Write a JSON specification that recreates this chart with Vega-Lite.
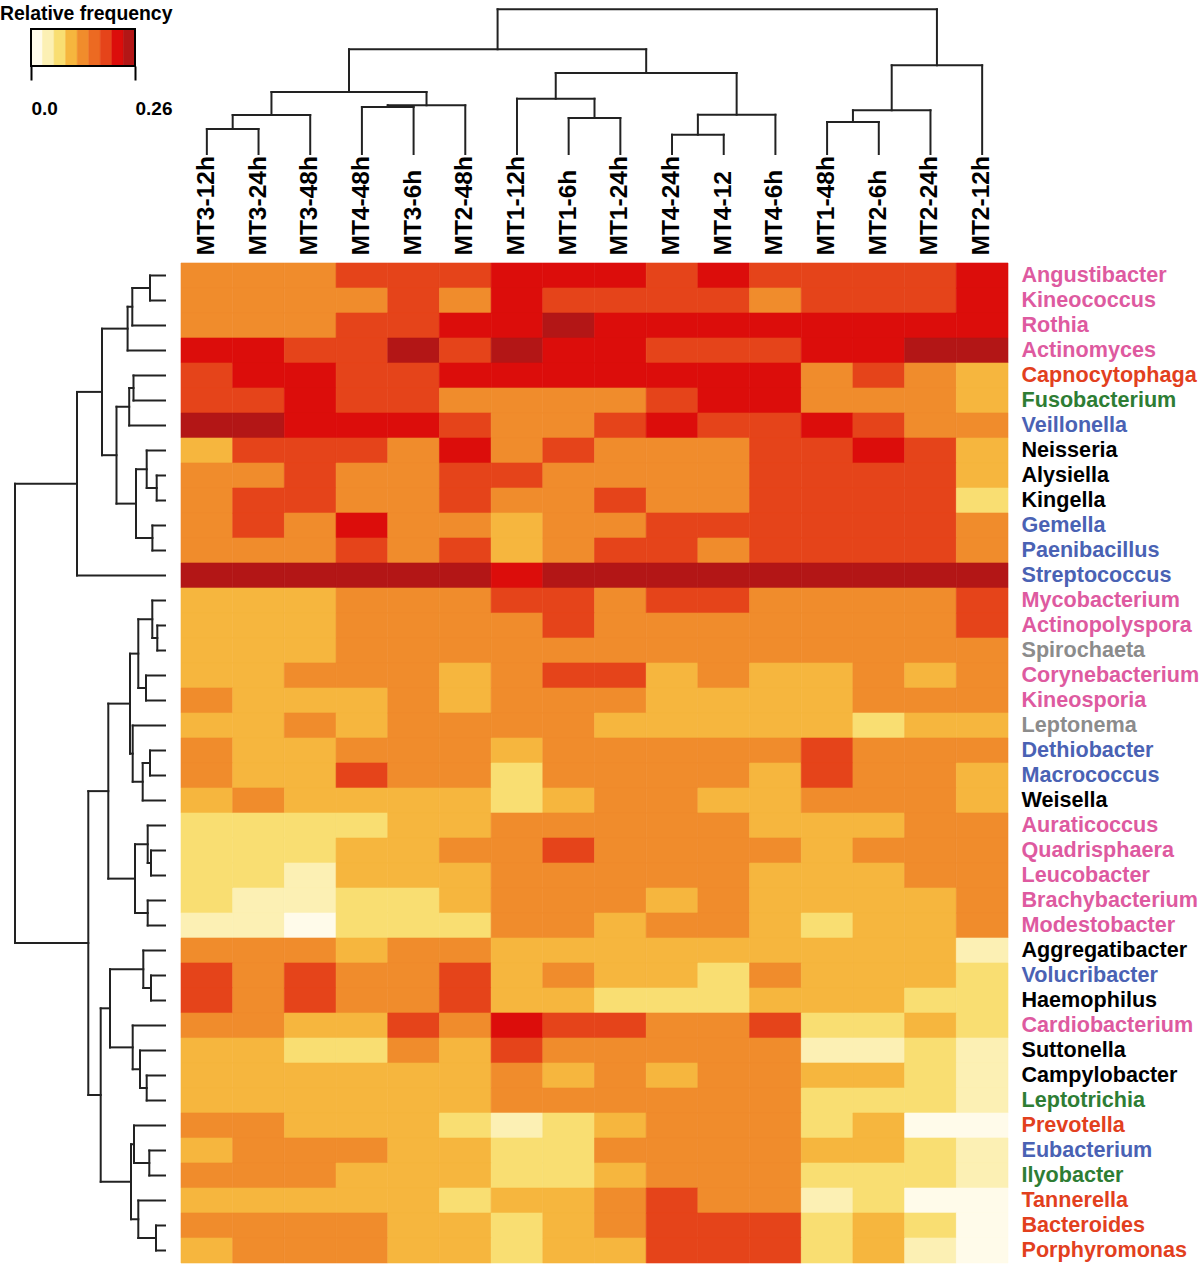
{
"$schema": "https://vega.github.io/schema/vega-lite/v6.json",
"padding": {"top": 3, "left": 0, "right": 0, "bottom": 0},
"autosize": {"type": "pad"},
"config": {"view": {"stroke": null}, "font": "Liberation Sans"},
"datasets": {
"bins": [
{"lo":0,"hi":0.0289,"freq":0.0144},{"lo":0.0289,"hi":0.0578,"freq":0.0433},{"lo":0.0578,"hi":0.0867,"freq":0.0722},
{"lo":0.0867,"hi":0.1156,"freq":0.1011},{"lo":0.1156,"hi":0.1444,"freq":0.13},{"lo":0.1444,"hi":0.1733,"freq":0.1589},
{"lo":0.1733,"hi":0.2022,"freq":0.1878},{"lo":0.2022,"hi":0.2311,"freq":0.2167},{"lo":0.2311,"hi":0.26,"freq":0.2456}
],
"coltree": [
{"left":1,"right":2,"lh":0,"rh":0,"h":25},
{"left":1.5,"right":3,"lh":25,"rh":0,"h":39},
{"left":4,"right":5,"lh":0,"rh":0,"h":47},
{"left":4.5,"right":6,"lh":47,"rh":0,"h":48.7},
{"left":2.25,"right":5.25,"lh":39,"rh":48.7,"h":62},
{"left":8,"right":9,"lh":0,"rh":0,"h":36},
{"left":7,"right":8.5,"lh":0,"rh":36,"h":55.3},
{"left":10,"right":11,"lh":0,"rh":0,"h":19.3},
{"left":10.5,"right":12,"lh":19.3,"rh":0,"h":39.3},
{"left":7.75,"right":11.25,"lh":55.3,"rh":39.3,"h":81},
{"left":3.75,"right":9.5,"lh":62,"rh":81,"h":104.7},
{"left":13,"right":14,"lh":0,"rh":0,"h":32},
{"left":13.5,"right":15,"lh":32,"rh":0,"h":43.7},
{"left":14.25,"right":16,"lh":43.7,"rh":0,"h":88.7},
{"left":6.625,"right":15.125,"lh":104.7,"rh":88.7,"h":144.7}
],
"rowtree": [
{"lp":1,"rp":2,"lh":0,"rh":0,"h":15},
{"lp":1.5,"rp":3,"lh":15,"rh":0,"h":32.7},
{"lp":2.25,"rp":4,"lh":32.7,"rh":0,"h":37.4},
{"lp":5,"rp":6,"lh":0,"rh":0,"h":31.5},
{"lp":5.5,"rp":7,"lh":31.5,"rh":0,"h":35.8},
{"lp":9,"rp":10,"lh":0,"rh":0,"h":8.3},
{"lp":8,"rp":9.5,"lh":0,"rh":8.3,"h":18.3},
{"lp":11,"rp":12,"lh":0,"rh":0,"h":12.6},
{"lp":8.75,"rp":11.5,"lh":18.3,"rh":12.6,"h":29},
{"lp":6.25,"rp":10.125,"lh":35.8,"rh":29,"h":48.5},
{"lp":3.125,"rp":8.1875,"lh":37.4,"rh":48.5,"h":63},
{"lp":5.656,"rp":13,"lh":63,"rh":0,"h":88},
{"lp":15,"rp":16,"lh":0,"rh":0,"h":7.7},
{"lp":14,"rp":15.5,"lh":0,"rh":7.7,"h":12.7},
{"lp":17,"rp":18,"lh":0,"rh":0,"h":19},
{"lp":14.75,"rp":17.5,"lh":12.7,"rh":19,"h":26.7},
{"lp":20,"rp":21,"lh":0,"rh":0,"h":15},
{"lp":20.5,"rp":22,"lh":15,"rh":0,"h":22.3},
{"lp":19,"rp":21.25,"lh":0,"rh":22.3,"h":32.3},
{"lp":16.125,"rp":20.125,"lh":26.7,"rh":32.3,"h":35},
{"lp":24,"rp":25,"lh":0,"rh":0,"h":14},
{"lp":23,"rp":24.5,"lh":0,"rh":14,"h":17.3},
{"lp":26,"rp":27,"lh":0,"rh":0,"h":17.3},
{"lp":23.75,"rp":26.5,"lh":17.3,"rh":17.3,"h":30},
{"lp":18.125,"rp":25.125,"lh":35,"rh":30,"h":56.7},
{"lp":29,"rp":30,"lh":0,"rh":0,"h":14},
{"lp":28,"rp":29.5,"lh":0,"rh":14,"h":21.7},
{"lp":33,"rp":34,"lh":0,"rh":0,"h":18.3},
{"lp":32,"rp":33.5,"lh":0,"rh":18.3,"h":25},
{"lp":31,"rp":32.75,"lh":0,"rh":25,"h":32.3},
{"lp":28.75,"rp":31.875,"lh":21.7,"rh":32.3,"h":55},
{"lp":36,"rp":37,"lh":0,"rh":0,"h":15.7},
{"lp":35,"rp":36.5,"lh":0,"rh":15.7,"h":31},
{"lp":39,"rp":40,"lh":0,"rh":0,"h":9},
{"lp":38,"rp":39.5,"lh":0,"rh":9,"h":26.7},
{"lp":35.75,"rp":38.75,"lh":31,"rh":26.7,"h":34},
{"lp":30.3125,"rp":37.25,"lh":55,"rh":34,"h":64.3},
{"lp":21.625,"rp":33.78,"lh":56.7,"rh":64.3,"h":76.7},
{"lp":9.328,"rp":27.7,"lh":88,"rh":76.7,"h":150}
],
"cells": [
{"genus":"Angustibacter","sample":"MT3-12h","freq":0.128},{"genus":"Angustibacter","sample":"MT3-24h","freq":0.128},{"genus":"Angustibacter","sample":"MT3-48h","freq":0.128},{"genus":"Angustibacter","sample":"MT4-48h","freq":0.186},{"genus":"Angustibacter","sample":"MT3-6h","freq":0.186},{"genus":"Angustibacter","sample":"MT2-48h","freq":0.186},{"genus":"Angustibacter","sample":"MT1-12h","freq":0.215},{"genus":"Angustibacter","sample":"MT1-6h","freq":0.215},{"genus":"Angustibacter","sample":"MT1-24h","freq":0.215},{"genus":"Angustibacter","sample":"MT4-24h","freq":0.186},{"genus":"Angustibacter","sample":"MT4-12","freq":0.215},{"genus":"Angustibacter","sample":"MT4-6h","freq":0.186},{"genus":"Angustibacter","sample":"MT1-48h","freq":0.186},{"genus":"Angustibacter","sample":"MT2-6h","freq":0.186},{"genus":"Angustibacter","sample":"MT2-24h","freq":0.186},{"genus":"Angustibacter","sample":"MT2-12h","freq":0.215},
{"genus":"Kineococcus","sample":"MT3-12h","freq":0.128},{"genus":"Kineococcus","sample":"MT3-24h","freq":0.128},{"genus":"Kineococcus","sample":"MT3-48h","freq":0.128},{"genus":"Kineococcus","sample":"MT4-48h","freq":0.128},{"genus":"Kineococcus","sample":"MT3-6h","freq":0.186},{"genus":"Kineococcus","sample":"MT2-48h","freq":0.128},{"genus":"Kineococcus","sample":"MT1-12h","freq":0.215},{"genus":"Kineococcus","sample":"MT1-6h","freq":0.186},{"genus":"Kineococcus","sample":"MT1-24h","freq":0.186},{"genus":"Kineococcus","sample":"MT4-24h","freq":0.186},{"genus":"Kineococcus","sample":"MT4-12","freq":0.186},{"genus":"Kineococcus","sample":"MT4-6h","freq":0.128},{"genus":"Kineococcus","sample":"MT1-48h","freq":0.186},{"genus":"Kineococcus","sample":"MT2-6h","freq":0.186},{"genus":"Kineococcus","sample":"MT2-24h","freq":0.186},{"genus":"Kineococcus","sample":"MT2-12h","freq":0.215},
{"genus":"Rothia","sample":"MT3-12h","freq":0.128},{"genus":"Rothia","sample":"MT3-24h","freq":0.128},{"genus":"Rothia","sample":"MT3-48h","freq":0.128},{"genus":"Rothia","sample":"MT4-48h","freq":0.186},{"genus":"Rothia","sample":"MT3-6h","freq":0.186},{"genus":"Rothia","sample":"MT2-48h","freq":0.215},{"genus":"Rothia","sample":"MT1-12h","freq":0.215},{"genus":"Rothia","sample":"MT1-6h","freq":0.245},{"genus":"Rothia","sample":"MT1-24h","freq":0.215},{"genus":"Rothia","sample":"MT4-24h","freq":0.215},{"genus":"Rothia","sample":"MT4-12","freq":0.215},{"genus":"Rothia","sample":"MT4-6h","freq":0.215},{"genus":"Rothia","sample":"MT1-48h","freq":0.215},{"genus":"Rothia","sample":"MT2-6h","freq":0.215},{"genus":"Rothia","sample":"MT2-24h","freq":0.215},{"genus":"Rothia","sample":"MT2-12h","freq":0.215},
{"genus":"Actinomyces","sample":"MT3-12h","freq":0.215},{"genus":"Actinomyces","sample":"MT3-24h","freq":0.215},{"genus":"Actinomyces","sample":"MT3-48h","freq":0.186},{"genus":"Actinomyces","sample":"MT4-48h","freq":0.186},{"genus":"Actinomyces","sample":"MT3-6h","freq":0.245},{"genus":"Actinomyces","sample":"MT2-48h","freq":0.186},{"genus":"Actinomyces","sample":"MT1-12h","freq":0.245},{"genus":"Actinomyces","sample":"MT1-6h","freq":0.215},{"genus":"Actinomyces","sample":"MT1-24h","freq":0.215},{"genus":"Actinomyces","sample":"MT4-24h","freq":0.186},{"genus":"Actinomyces","sample":"MT4-12","freq":0.186},{"genus":"Actinomyces","sample":"MT4-6h","freq":0.186},{"genus":"Actinomyces","sample":"MT1-48h","freq":0.215},{"genus":"Actinomyces","sample":"MT2-6h","freq":0.215},{"genus":"Actinomyces","sample":"MT2-24h","freq":0.245},{"genus":"Actinomyces","sample":"MT2-12h","freq":0.245},
{"genus":"Capnocytophaga","sample":"MT3-12h","freq":0.186},{"genus":"Capnocytophaga","sample":"MT3-24h","freq":0.215},{"genus":"Capnocytophaga","sample":"MT3-48h","freq":0.215},{"genus":"Capnocytophaga","sample":"MT4-48h","freq":0.186},{"genus":"Capnocytophaga","sample":"MT3-6h","freq":0.186},{"genus":"Capnocytophaga","sample":"MT2-48h","freq":0.215},{"genus":"Capnocytophaga","sample":"MT1-12h","freq":0.215},{"genus":"Capnocytophaga","sample":"MT1-6h","freq":0.215},{"genus":"Capnocytophaga","sample":"MT1-24h","freq":0.215},{"genus":"Capnocytophaga","sample":"MT4-24h","freq":0.215},{"genus":"Capnocytophaga","sample":"MT4-12","freq":0.215},{"genus":"Capnocytophaga","sample":"MT4-6h","freq":0.215},{"genus":"Capnocytophaga","sample":"MT1-48h","freq":0.128},{"genus":"Capnocytophaga","sample":"MT2-6h","freq":0.186},{"genus":"Capnocytophaga","sample":"MT2-24h","freq":0.128},{"genus":"Capnocytophaga","sample":"MT2-12h","freq":0.1},
{"genus":"Fusobacterium","sample":"MT3-12h","freq":0.186},{"genus":"Fusobacterium","sample":"MT3-24h","freq":0.186},{"genus":"Fusobacterium","sample":"MT3-48h","freq":0.215},{"genus":"Fusobacterium","sample":"MT4-48h","freq":0.186},{"genus":"Fusobacterium","sample":"MT3-6h","freq":0.186},{"genus":"Fusobacterium","sample":"MT2-48h","freq":0.128},{"genus":"Fusobacterium","sample":"MT1-12h","freq":0.128},{"genus":"Fusobacterium","sample":"MT1-6h","freq":0.128},{"genus":"Fusobacterium","sample":"MT1-24h","freq":0.128},{"genus":"Fusobacterium","sample":"MT4-24h","freq":0.186},{"genus":"Fusobacterium","sample":"MT4-12","freq":0.215},{"genus":"Fusobacterium","sample":"MT4-6h","freq":0.215},{"genus":"Fusobacterium","sample":"MT1-48h","freq":0.128},{"genus":"Fusobacterium","sample":"MT2-6h","freq":0.128},{"genus":"Fusobacterium","sample":"MT2-24h","freq":0.128},{"genus":"Fusobacterium","sample":"MT2-12h","freq":0.1},
{"genus":"Veillonella","sample":"MT3-12h","freq":0.245},{"genus":"Veillonella","sample":"MT3-24h","freq":0.245},{"genus":"Veillonella","sample":"MT3-48h","freq":0.215},{"genus":"Veillonella","sample":"MT4-48h","freq":0.215},{"genus":"Veillonella","sample":"MT3-6h","freq":0.215},{"genus":"Veillonella","sample":"MT2-48h","freq":0.186},{"genus":"Veillonella","sample":"MT1-12h","freq":0.128},{"genus":"Veillonella","sample":"MT1-6h","freq":0.128},{"genus":"Veillonella","sample":"MT1-24h","freq":0.186},{"genus":"Veillonella","sample":"MT4-24h","freq":0.215},{"genus":"Veillonella","sample":"MT4-12","freq":0.186},{"genus":"Veillonella","sample":"MT4-6h","freq":0.186},{"genus":"Veillonella","sample":"MT1-48h","freq":0.215},{"genus":"Veillonella","sample":"MT2-6h","freq":0.186},{"genus":"Veillonella","sample":"MT2-24h","freq":0.128},{"genus":"Veillonella","sample":"MT2-12h","freq":0.128},
{"genus":"Neisseria","sample":"MT3-12h","freq":0.1},{"genus":"Neisseria","sample":"MT3-24h","freq":0.186},{"genus":"Neisseria","sample":"MT3-48h","freq":0.186},{"genus":"Neisseria","sample":"MT4-48h","freq":0.186},{"genus":"Neisseria","sample":"MT3-6h","freq":0.128},{"genus":"Neisseria","sample":"MT2-48h","freq":0.215},{"genus":"Neisseria","sample":"MT1-12h","freq":0.128},{"genus":"Neisseria","sample":"MT1-6h","freq":0.186},{"genus":"Neisseria","sample":"MT1-24h","freq":0.128},{"genus":"Neisseria","sample":"MT4-24h","freq":0.128},{"genus":"Neisseria","sample":"MT4-12","freq":0.128},{"genus":"Neisseria","sample":"MT4-6h","freq":0.186},{"genus":"Neisseria","sample":"MT1-48h","freq":0.186},{"genus":"Neisseria","sample":"MT2-6h","freq":0.215},{"genus":"Neisseria","sample":"MT2-24h","freq":0.186},{"genus":"Neisseria","sample":"MT2-12h","freq":0.1},
{"genus":"Alysiella","sample":"MT3-12h","freq":0.128},{"genus":"Alysiella","sample":"MT3-24h","freq":0.128},{"genus":"Alysiella","sample":"MT3-48h","freq":0.186},{"genus":"Alysiella","sample":"MT4-48h","freq":0.128},{"genus":"Alysiella","sample":"MT3-6h","freq":0.128},{"genus":"Alysiella","sample":"MT2-48h","freq":0.186},{"genus":"Alysiella","sample":"MT1-12h","freq":0.186},{"genus":"Alysiella","sample":"MT1-6h","freq":0.128},{"genus":"Alysiella","sample":"MT1-24h","freq":0.128},{"genus":"Alysiella","sample":"MT4-24h","freq":0.128},{"genus":"Alysiella","sample":"MT4-12","freq":0.128},{"genus":"Alysiella","sample":"MT4-6h","freq":0.186},{"genus":"Alysiella","sample":"MT1-48h","freq":0.186},{"genus":"Alysiella","sample":"MT2-6h","freq":0.186},{"genus":"Alysiella","sample":"MT2-24h","freq":0.186},{"genus":"Alysiella","sample":"MT2-12h","freq":0.1},
{"genus":"Kingella","sample":"MT3-12h","freq":0.128},{"genus":"Kingella","sample":"MT3-24h","freq":0.186},{"genus":"Kingella","sample":"MT3-48h","freq":0.186},{"genus":"Kingella","sample":"MT4-48h","freq":0.128},{"genus":"Kingella","sample":"MT3-6h","freq":0.128},{"genus":"Kingella","sample":"MT2-48h","freq":0.186},{"genus":"Kingella","sample":"MT1-12h","freq":0.128},{"genus":"Kingella","sample":"MT1-6h","freq":0.128},{"genus":"Kingella","sample":"MT1-24h","freq":0.186},{"genus":"Kingella","sample":"MT4-24h","freq":0.128},{"genus":"Kingella","sample":"MT4-12","freq":0.128},{"genus":"Kingella","sample":"MT4-6h","freq":0.186},{"genus":"Kingella","sample":"MT1-48h","freq":0.186},{"genus":"Kingella","sample":"MT2-6h","freq":0.186},{"genus":"Kingella","sample":"MT2-24h","freq":0.186},{"genus":"Kingella","sample":"MT2-12h","freq":0.072},
{"genus":"Gemella","sample":"MT3-12h","freq":0.128},{"genus":"Gemella","sample":"MT3-24h","freq":0.186},{"genus":"Gemella","sample":"MT3-48h","freq":0.128},{"genus":"Gemella","sample":"MT4-48h","freq":0.215},{"genus":"Gemella","sample":"MT3-6h","freq":0.128},{"genus":"Gemella","sample":"MT2-48h","freq":0.128},{"genus":"Gemella","sample":"MT1-12h","freq":0.1},{"genus":"Gemella","sample":"MT1-6h","freq":0.128},{"genus":"Gemella","sample":"MT1-24h","freq":0.128},{"genus":"Gemella","sample":"MT4-24h","freq":0.186},{"genus":"Gemella","sample":"MT4-12","freq":0.186},{"genus":"Gemella","sample":"MT4-6h","freq":0.186},{"genus":"Gemella","sample":"MT1-48h","freq":0.186},{"genus":"Gemella","sample":"MT2-6h","freq":0.186},{"genus":"Gemella","sample":"MT2-24h","freq":0.186},{"genus":"Gemella","sample":"MT2-12h","freq":0.128},
{"genus":"Paenibacillus","sample":"MT3-12h","freq":0.128},{"genus":"Paenibacillus","sample":"MT3-24h","freq":0.128},{"genus":"Paenibacillus","sample":"MT3-48h","freq":0.128},{"genus":"Paenibacillus","sample":"MT4-48h","freq":0.186},{"genus":"Paenibacillus","sample":"MT3-6h","freq":0.128},{"genus":"Paenibacillus","sample":"MT2-48h","freq":0.186},{"genus":"Paenibacillus","sample":"MT1-12h","freq":0.1},{"genus":"Paenibacillus","sample":"MT1-6h","freq":0.128},{"genus":"Paenibacillus","sample":"MT1-24h","freq":0.186},{"genus":"Paenibacillus","sample":"MT4-24h","freq":0.186},{"genus":"Paenibacillus","sample":"MT4-12","freq":0.128},{"genus":"Paenibacillus","sample":"MT4-6h","freq":0.186},{"genus":"Paenibacillus","sample":"MT1-48h","freq":0.186},{"genus":"Paenibacillus","sample":"MT2-6h","freq":0.186},{"genus":"Paenibacillus","sample":"MT2-24h","freq":0.186},{"genus":"Paenibacillus","sample":"MT2-12h","freq":0.128},
{"genus":"Streptococcus","sample":"MT3-12h","freq":0.245},{"genus":"Streptococcus","sample":"MT3-24h","freq":0.245},{"genus":"Streptococcus","sample":"MT3-48h","freq":0.245},{"genus":"Streptococcus","sample":"MT4-48h","freq":0.245},{"genus":"Streptococcus","sample":"MT3-6h","freq":0.245},{"genus":"Streptococcus","sample":"MT2-48h","freq":0.245},{"genus":"Streptococcus","sample":"MT1-12h","freq":0.215},{"genus":"Streptococcus","sample":"MT1-6h","freq":0.245},{"genus":"Streptococcus","sample":"MT1-24h","freq":0.245},{"genus":"Streptococcus","sample":"MT4-24h","freq":0.245},{"genus":"Streptococcus","sample":"MT4-12","freq":0.245},{"genus":"Streptococcus","sample":"MT4-6h","freq":0.245},{"genus":"Streptococcus","sample":"MT1-48h","freq":0.245},{"genus":"Streptococcus","sample":"MT2-6h","freq":0.245},{"genus":"Streptococcus","sample":"MT2-24h","freq":0.245},{"genus":"Streptococcus","sample":"MT2-12h","freq":0.245},
{"genus":"Mycobacterium","sample":"MT3-12h","freq":0.1},{"genus":"Mycobacterium","sample":"MT3-24h","freq":0.1},{"genus":"Mycobacterium","sample":"MT3-48h","freq":0.1},{"genus":"Mycobacterium","sample":"MT4-48h","freq":0.128},{"genus":"Mycobacterium","sample":"MT3-6h","freq":0.128},{"genus":"Mycobacterium","sample":"MT2-48h","freq":0.128},{"genus":"Mycobacterium","sample":"MT1-12h","freq":0.186},{"genus":"Mycobacterium","sample":"MT1-6h","freq":0.186},{"genus":"Mycobacterium","sample":"MT1-24h","freq":0.128},{"genus":"Mycobacterium","sample":"MT4-24h","freq":0.186},{"genus":"Mycobacterium","sample":"MT4-12","freq":0.186},{"genus":"Mycobacterium","sample":"MT4-6h","freq":0.128},{"genus":"Mycobacterium","sample":"MT1-48h","freq":0.128},{"genus":"Mycobacterium","sample":"MT2-6h","freq":0.128},{"genus":"Mycobacterium","sample":"MT2-24h","freq":0.128},{"genus":"Mycobacterium","sample":"MT2-12h","freq":0.186},
{"genus":"Actinopolyspora","sample":"MT3-12h","freq":0.1},{"genus":"Actinopolyspora","sample":"MT3-24h","freq":0.1},{"genus":"Actinopolyspora","sample":"MT3-48h","freq":0.1},{"genus":"Actinopolyspora","sample":"MT4-48h","freq":0.128},{"genus":"Actinopolyspora","sample":"MT3-6h","freq":0.128},{"genus":"Actinopolyspora","sample":"MT2-48h","freq":0.128},{"genus":"Actinopolyspora","sample":"MT1-12h","freq":0.128},{"genus":"Actinopolyspora","sample":"MT1-6h","freq":0.186},{"genus":"Actinopolyspora","sample":"MT1-24h","freq":0.128},{"genus":"Actinopolyspora","sample":"MT4-24h","freq":0.128},{"genus":"Actinopolyspora","sample":"MT4-12","freq":0.128},{"genus":"Actinopolyspora","sample":"MT4-6h","freq":0.128},{"genus":"Actinopolyspora","sample":"MT1-48h","freq":0.128},{"genus":"Actinopolyspora","sample":"MT2-6h","freq":0.128},{"genus":"Actinopolyspora","sample":"MT2-24h","freq":0.128},{"genus":"Actinopolyspora","sample":"MT2-12h","freq":0.186},
{"genus":"Spirochaeta","sample":"MT3-12h","freq":0.1},{"genus":"Spirochaeta","sample":"MT3-24h","freq":0.1},{"genus":"Spirochaeta","sample":"MT3-48h","freq":0.1},{"genus":"Spirochaeta","sample":"MT4-48h","freq":0.128},{"genus":"Spirochaeta","sample":"MT3-6h","freq":0.128},{"genus":"Spirochaeta","sample":"MT2-48h","freq":0.128},{"genus":"Spirochaeta","sample":"MT1-12h","freq":0.128},{"genus":"Spirochaeta","sample":"MT1-6h","freq":0.128},{"genus":"Spirochaeta","sample":"MT1-24h","freq":0.128},{"genus":"Spirochaeta","sample":"MT4-24h","freq":0.128},{"genus":"Spirochaeta","sample":"MT4-12","freq":0.128},{"genus":"Spirochaeta","sample":"MT4-6h","freq":0.128},{"genus":"Spirochaeta","sample":"MT1-48h","freq":0.128},{"genus":"Spirochaeta","sample":"MT2-6h","freq":0.128},{"genus":"Spirochaeta","sample":"MT2-24h","freq":0.128},{"genus":"Spirochaeta","sample":"MT2-12h","freq":0.128},
{"genus":"Corynebacterium","sample":"MT3-12h","freq":0.1},{"genus":"Corynebacterium","sample":"MT3-24h","freq":0.1},{"genus":"Corynebacterium","sample":"MT3-48h","freq":0.128},{"genus":"Corynebacterium","sample":"MT4-48h","freq":0.128},{"genus":"Corynebacterium","sample":"MT3-6h","freq":0.128},{"genus":"Corynebacterium","sample":"MT2-48h","freq":0.1},{"genus":"Corynebacterium","sample":"MT1-12h","freq":0.128},{"genus":"Corynebacterium","sample":"MT1-6h","freq":0.186},{"genus":"Corynebacterium","sample":"MT1-24h","freq":0.186},{"genus":"Corynebacterium","sample":"MT4-24h","freq":0.1},{"genus":"Corynebacterium","sample":"MT4-12","freq":0.128},{"genus":"Corynebacterium","sample":"MT4-6h","freq":0.1},{"genus":"Corynebacterium","sample":"MT1-48h","freq":0.1},{"genus":"Corynebacterium","sample":"MT2-6h","freq":0.128},{"genus":"Corynebacterium","sample":"MT2-24h","freq":0.1},{"genus":"Corynebacterium","sample":"MT2-12h","freq":0.128},
{"genus":"Kineosporia","sample":"MT3-12h","freq":0.128},{"genus":"Kineosporia","sample":"MT3-24h","freq":0.1},{"genus":"Kineosporia","sample":"MT3-48h","freq":0.1},{"genus":"Kineosporia","sample":"MT4-48h","freq":0.1},{"genus":"Kineosporia","sample":"MT3-6h","freq":0.128},{"genus":"Kineosporia","sample":"MT2-48h","freq":0.1},{"genus":"Kineosporia","sample":"MT1-12h","freq":0.128},{"genus":"Kineosporia","sample":"MT1-6h","freq":0.128},{"genus":"Kineosporia","sample":"MT1-24h","freq":0.128},{"genus":"Kineosporia","sample":"MT4-24h","freq":0.1},{"genus":"Kineosporia","sample":"MT4-12","freq":0.1},{"genus":"Kineosporia","sample":"MT4-6h","freq":0.1},{"genus":"Kineosporia","sample":"MT1-48h","freq":0.1},{"genus":"Kineosporia","sample":"MT2-6h","freq":0.128},{"genus":"Kineosporia","sample":"MT2-24h","freq":0.128},{"genus":"Kineosporia","sample":"MT2-12h","freq":0.128},
{"genus":"Leptonema","sample":"MT3-12h","freq":0.1},{"genus":"Leptonema","sample":"MT3-24h","freq":0.1},{"genus":"Leptonema","sample":"MT3-48h","freq":0.128},{"genus":"Leptonema","sample":"MT4-48h","freq":0.1},{"genus":"Leptonema","sample":"MT3-6h","freq":0.128},{"genus":"Leptonema","sample":"MT2-48h","freq":0.128},{"genus":"Leptonema","sample":"MT1-12h","freq":0.128},{"genus":"Leptonema","sample":"MT1-6h","freq":0.128},{"genus":"Leptonema","sample":"MT1-24h","freq":0.1},{"genus":"Leptonema","sample":"MT4-24h","freq":0.1},{"genus":"Leptonema","sample":"MT4-12","freq":0.1},{"genus":"Leptonema","sample":"MT4-6h","freq":0.1},{"genus":"Leptonema","sample":"MT1-48h","freq":0.1},{"genus":"Leptonema","sample":"MT2-6h","freq":0.072},{"genus":"Leptonema","sample":"MT2-24h","freq":0.1},{"genus":"Leptonema","sample":"MT2-12h","freq":0.1},
{"genus":"Dethiobacter","sample":"MT3-12h","freq":0.128},{"genus":"Dethiobacter","sample":"MT3-24h","freq":0.1},{"genus":"Dethiobacter","sample":"MT3-48h","freq":0.1},{"genus":"Dethiobacter","sample":"MT4-48h","freq":0.128},{"genus":"Dethiobacter","sample":"MT3-6h","freq":0.128},{"genus":"Dethiobacter","sample":"MT2-48h","freq":0.128},{"genus":"Dethiobacter","sample":"MT1-12h","freq":0.1},{"genus":"Dethiobacter","sample":"MT1-6h","freq":0.128},{"genus":"Dethiobacter","sample":"MT1-24h","freq":0.128},{"genus":"Dethiobacter","sample":"MT4-24h","freq":0.128},{"genus":"Dethiobacter","sample":"MT4-12","freq":0.128},{"genus":"Dethiobacter","sample":"MT4-6h","freq":0.128},{"genus":"Dethiobacter","sample":"MT1-48h","freq":0.186},{"genus":"Dethiobacter","sample":"MT2-6h","freq":0.128},{"genus":"Dethiobacter","sample":"MT2-24h","freq":0.128},{"genus":"Dethiobacter","sample":"MT2-12h","freq":0.128},
{"genus":"Macrococcus","sample":"MT3-12h","freq":0.128},{"genus":"Macrococcus","sample":"MT3-24h","freq":0.1},{"genus":"Macrococcus","sample":"MT3-48h","freq":0.1},{"genus":"Macrococcus","sample":"MT4-48h","freq":0.186},{"genus":"Macrococcus","sample":"MT3-6h","freq":0.128},{"genus":"Macrococcus","sample":"MT2-48h","freq":0.128},{"genus":"Macrococcus","sample":"MT1-12h","freq":0.072},{"genus":"Macrococcus","sample":"MT1-6h","freq":0.128},{"genus":"Macrococcus","sample":"MT1-24h","freq":0.128},{"genus":"Macrococcus","sample":"MT4-24h","freq":0.128},{"genus":"Macrococcus","sample":"MT4-12","freq":0.128},{"genus":"Macrococcus","sample":"MT4-6h","freq":0.1},{"genus":"Macrococcus","sample":"MT1-48h","freq":0.186},{"genus":"Macrococcus","sample":"MT2-6h","freq":0.128},{"genus":"Macrococcus","sample":"MT2-24h","freq":0.128},{"genus":"Macrococcus","sample":"MT2-12h","freq":0.1},
{"genus":"Weisella","sample":"MT3-12h","freq":0.1},{"genus":"Weisella","sample":"MT3-24h","freq":0.128},{"genus":"Weisella","sample":"MT3-48h","freq":0.1},{"genus":"Weisella","sample":"MT4-48h","freq":0.1},{"genus":"Weisella","sample":"MT3-6h","freq":0.1},{"genus":"Weisella","sample":"MT2-48h","freq":0.1},{"genus":"Weisella","sample":"MT1-12h","freq":0.072},{"genus":"Weisella","sample":"MT1-6h","freq":0.1},{"genus":"Weisella","sample":"MT1-24h","freq":0.128},{"genus":"Weisella","sample":"MT4-24h","freq":0.128},{"genus":"Weisella","sample":"MT4-12","freq":0.1},{"genus":"Weisella","sample":"MT4-6h","freq":0.1},{"genus":"Weisella","sample":"MT1-48h","freq":0.128},{"genus":"Weisella","sample":"MT2-6h","freq":0.128},{"genus":"Weisella","sample":"MT2-24h","freq":0.128},{"genus":"Weisella","sample":"MT2-12h","freq":0.1},
{"genus":"Auraticoccus","sample":"MT3-12h","freq":0.072},{"genus":"Auraticoccus","sample":"MT3-24h","freq":0.072},{"genus":"Auraticoccus","sample":"MT3-48h","freq":0.072},{"genus":"Auraticoccus","sample":"MT4-48h","freq":0.072},{"genus":"Auraticoccus","sample":"MT3-6h","freq":0.1},{"genus":"Auraticoccus","sample":"MT2-48h","freq":0.1},{"genus":"Auraticoccus","sample":"MT1-12h","freq":0.128},{"genus":"Auraticoccus","sample":"MT1-6h","freq":0.128},{"genus":"Auraticoccus","sample":"MT1-24h","freq":0.128},{"genus":"Auraticoccus","sample":"MT4-24h","freq":0.128},{"genus":"Auraticoccus","sample":"MT4-12","freq":0.128},{"genus":"Auraticoccus","sample":"MT4-6h","freq":0.1},{"genus":"Auraticoccus","sample":"MT1-48h","freq":0.1},{"genus":"Auraticoccus","sample":"MT2-6h","freq":0.1},{"genus":"Auraticoccus","sample":"MT2-24h","freq":0.128},{"genus":"Auraticoccus","sample":"MT2-12h","freq":0.128},
{"genus":"Quadrisphaera","sample":"MT3-12h","freq":0.072},{"genus":"Quadrisphaera","sample":"MT3-24h","freq":0.072},{"genus":"Quadrisphaera","sample":"MT3-48h","freq":0.072},{"genus":"Quadrisphaera","sample":"MT4-48h","freq":0.1},{"genus":"Quadrisphaera","sample":"MT3-6h","freq":0.1},{"genus":"Quadrisphaera","sample":"MT2-48h","freq":0.128},{"genus":"Quadrisphaera","sample":"MT1-12h","freq":0.128},{"genus":"Quadrisphaera","sample":"MT1-6h","freq":0.186},{"genus":"Quadrisphaera","sample":"MT1-24h","freq":0.128},{"genus":"Quadrisphaera","sample":"MT4-24h","freq":0.128},{"genus":"Quadrisphaera","sample":"MT4-12","freq":0.128},{"genus":"Quadrisphaera","sample":"MT4-6h","freq":0.128},{"genus":"Quadrisphaera","sample":"MT1-48h","freq":0.1},{"genus":"Quadrisphaera","sample":"MT2-6h","freq":0.128},{"genus":"Quadrisphaera","sample":"MT2-24h","freq":0.128},{"genus":"Quadrisphaera","sample":"MT2-12h","freq":0.128},
{"genus":"Leucobacter","sample":"MT3-12h","freq":0.072},{"genus":"Leucobacter","sample":"MT3-24h","freq":0.072},{"genus":"Leucobacter","sample":"MT3-48h","freq":0.043},{"genus":"Leucobacter","sample":"MT4-48h","freq":0.1},{"genus":"Leucobacter","sample":"MT3-6h","freq":0.1},{"genus":"Leucobacter","sample":"MT2-48h","freq":0.1},{"genus":"Leucobacter","sample":"MT1-12h","freq":0.128},{"genus":"Leucobacter","sample":"MT1-6h","freq":0.128},{"genus":"Leucobacter","sample":"MT1-24h","freq":0.128},{"genus":"Leucobacter","sample":"MT4-24h","freq":0.128},{"genus":"Leucobacter","sample":"MT4-12","freq":0.128},{"genus":"Leucobacter","sample":"MT4-6h","freq":0.1},{"genus":"Leucobacter","sample":"MT1-48h","freq":0.1},{"genus":"Leucobacter","sample":"MT2-6h","freq":0.1},{"genus":"Leucobacter","sample":"MT2-24h","freq":0.128},{"genus":"Leucobacter","sample":"MT2-12h","freq":0.128},
{"genus":"Brachybacterium","sample":"MT3-12h","freq":0.072},{"genus":"Brachybacterium","sample":"MT3-24h","freq":0.043},{"genus":"Brachybacterium","sample":"MT3-48h","freq":0.043},{"genus":"Brachybacterium","sample":"MT4-48h","freq":0.072},{"genus":"Brachybacterium","sample":"MT3-6h","freq":0.072},{"genus":"Brachybacterium","sample":"MT2-48h","freq":0.1},{"genus":"Brachybacterium","sample":"MT1-12h","freq":0.128},{"genus":"Brachybacterium","sample":"MT1-6h","freq":0.128},{"genus":"Brachybacterium","sample":"MT1-24h","freq":0.128},{"genus":"Brachybacterium","sample":"MT4-24h","freq":0.1},{"genus":"Brachybacterium","sample":"MT4-12","freq":0.128},{"genus":"Brachybacterium","sample":"MT4-6h","freq":0.1},{"genus":"Brachybacterium","sample":"MT1-48h","freq":0.1},{"genus":"Brachybacterium","sample":"MT2-6h","freq":0.1},{"genus":"Brachybacterium","sample":"MT2-24h","freq":0.1},{"genus":"Brachybacterium","sample":"MT2-12h","freq":0.128},
{"genus":"Modestobacter","sample":"MT3-12h","freq":0.043},{"genus":"Modestobacter","sample":"MT3-24h","freq":0.043},{"genus":"Modestobacter","sample":"MT3-48h","freq":0.014},{"genus":"Modestobacter","sample":"MT4-48h","freq":0.072},{"genus":"Modestobacter","sample":"MT3-6h","freq":0.072},{"genus":"Modestobacter","sample":"MT2-48h","freq":0.072},{"genus":"Modestobacter","sample":"MT1-12h","freq":0.128},{"genus":"Modestobacter","sample":"MT1-6h","freq":0.128},{"genus":"Modestobacter","sample":"MT1-24h","freq":0.1},{"genus":"Modestobacter","sample":"MT4-24h","freq":0.128},{"genus":"Modestobacter","sample":"MT4-12","freq":0.128},{"genus":"Modestobacter","sample":"MT4-6h","freq":0.1},{"genus":"Modestobacter","sample":"MT1-48h","freq":0.072},{"genus":"Modestobacter","sample":"MT2-6h","freq":0.1},{"genus":"Modestobacter","sample":"MT2-24h","freq":0.1},{"genus":"Modestobacter","sample":"MT2-12h","freq":0.128},
{"genus":"Aggregatibacter","sample":"MT3-12h","freq":0.128},{"genus":"Aggregatibacter","sample":"MT3-24h","freq":0.128},{"genus":"Aggregatibacter","sample":"MT3-48h","freq":0.128},{"genus":"Aggregatibacter","sample":"MT4-48h","freq":0.1},{"genus":"Aggregatibacter","sample":"MT3-6h","freq":0.128},{"genus":"Aggregatibacter","sample":"MT2-48h","freq":0.128},{"genus":"Aggregatibacter","sample":"MT1-12h","freq":0.1},{"genus":"Aggregatibacter","sample":"MT1-6h","freq":0.1},{"genus":"Aggregatibacter","sample":"MT1-24h","freq":0.1},{"genus":"Aggregatibacter","sample":"MT4-24h","freq":0.1},{"genus":"Aggregatibacter","sample":"MT4-12","freq":0.1},{"genus":"Aggregatibacter","sample":"MT4-6h","freq":0.1},{"genus":"Aggregatibacter","sample":"MT1-48h","freq":0.1},{"genus":"Aggregatibacter","sample":"MT2-6h","freq":0.1},{"genus":"Aggregatibacter","sample":"MT2-24h","freq":0.1},{"genus":"Aggregatibacter","sample":"MT2-12h","freq":0.043},
{"genus":"Volucribacter","sample":"MT3-12h","freq":0.186},{"genus":"Volucribacter","sample":"MT3-24h","freq":0.128},{"genus":"Volucribacter","sample":"MT3-48h","freq":0.186},{"genus":"Volucribacter","sample":"MT4-48h","freq":0.128},{"genus":"Volucribacter","sample":"MT3-6h","freq":0.128},{"genus":"Volucribacter","sample":"MT2-48h","freq":0.186},{"genus":"Volucribacter","sample":"MT1-12h","freq":0.1},{"genus":"Volucribacter","sample":"MT1-6h","freq":0.128},{"genus":"Volucribacter","sample":"MT1-24h","freq":0.1},{"genus":"Volucribacter","sample":"MT4-24h","freq":0.1},{"genus":"Volucribacter","sample":"MT4-12","freq":0.072},{"genus":"Volucribacter","sample":"MT4-6h","freq":0.128},{"genus":"Volucribacter","sample":"MT1-48h","freq":0.1},{"genus":"Volucribacter","sample":"MT2-6h","freq":0.1},{"genus":"Volucribacter","sample":"MT2-24h","freq":0.1},{"genus":"Volucribacter","sample":"MT2-12h","freq":0.072},
{"genus":"Haemophilus","sample":"MT3-12h","freq":0.186},{"genus":"Haemophilus","sample":"MT3-24h","freq":0.128},{"genus":"Haemophilus","sample":"MT3-48h","freq":0.186},{"genus":"Haemophilus","sample":"MT4-48h","freq":0.128},{"genus":"Haemophilus","sample":"MT3-6h","freq":0.128},{"genus":"Haemophilus","sample":"MT2-48h","freq":0.186},{"genus":"Haemophilus","sample":"MT1-12h","freq":0.1},{"genus":"Haemophilus","sample":"MT1-6h","freq":0.1},{"genus":"Haemophilus","sample":"MT1-24h","freq":0.072},{"genus":"Haemophilus","sample":"MT4-24h","freq":0.072},{"genus":"Haemophilus","sample":"MT4-12","freq":0.072},{"genus":"Haemophilus","sample":"MT4-6h","freq":0.1},{"genus":"Haemophilus","sample":"MT1-48h","freq":0.1},{"genus":"Haemophilus","sample":"MT2-6h","freq":0.1},{"genus":"Haemophilus","sample":"MT2-24h","freq":0.072},{"genus":"Haemophilus","sample":"MT2-12h","freq":0.072},
{"genus":"Cardiobacterium","sample":"MT3-12h","freq":0.128},{"genus":"Cardiobacterium","sample":"MT3-24h","freq":0.128},{"genus":"Cardiobacterium","sample":"MT3-48h","freq":0.1},{"genus":"Cardiobacterium","sample":"MT4-48h","freq":0.1},{"genus":"Cardiobacterium","sample":"MT3-6h","freq":0.186},{"genus":"Cardiobacterium","sample":"MT2-48h","freq":0.128},{"genus":"Cardiobacterium","sample":"MT1-12h","freq":0.215},{"genus":"Cardiobacterium","sample":"MT1-6h","freq":0.186},{"genus":"Cardiobacterium","sample":"MT1-24h","freq":0.186},{"genus":"Cardiobacterium","sample":"MT4-24h","freq":0.128},{"genus":"Cardiobacterium","sample":"MT4-12","freq":0.128},{"genus":"Cardiobacterium","sample":"MT4-6h","freq":0.186},{"genus":"Cardiobacterium","sample":"MT1-48h","freq":0.072},{"genus":"Cardiobacterium","sample":"MT2-6h","freq":0.072},{"genus":"Cardiobacterium","sample":"MT2-24h","freq":0.1},{"genus":"Cardiobacterium","sample":"MT2-12h","freq":0.072},
{"genus":"Suttonella","sample":"MT3-12h","freq":0.1},{"genus":"Suttonella","sample":"MT3-24h","freq":0.1},{"genus":"Suttonella","sample":"MT3-48h","freq":0.072},{"genus":"Suttonella","sample":"MT4-48h","freq":0.072},{"genus":"Suttonella","sample":"MT3-6h","freq":0.128},{"genus":"Suttonella","sample":"MT2-48h","freq":0.1},{"genus":"Suttonella","sample":"MT1-12h","freq":0.186},{"genus":"Suttonella","sample":"MT1-6h","freq":0.128},{"genus":"Suttonella","sample":"MT1-24h","freq":0.128},{"genus":"Suttonella","sample":"MT4-24h","freq":0.128},{"genus":"Suttonella","sample":"MT4-12","freq":0.128},{"genus":"Suttonella","sample":"MT4-6h","freq":0.128},{"genus":"Suttonella","sample":"MT1-48h","freq":0.043},{"genus":"Suttonella","sample":"MT2-6h","freq":0.043},{"genus":"Suttonella","sample":"MT2-24h","freq":0.072},{"genus":"Suttonella","sample":"MT2-12h","freq":0.043},
{"genus":"Campylobacter","sample":"MT3-12h","freq":0.1},{"genus":"Campylobacter","sample":"MT3-24h","freq":0.1},{"genus":"Campylobacter","sample":"MT3-48h","freq":0.1},{"genus":"Campylobacter","sample":"MT4-48h","freq":0.1},{"genus":"Campylobacter","sample":"MT3-6h","freq":0.1},{"genus":"Campylobacter","sample":"MT2-48h","freq":0.1},{"genus":"Campylobacter","sample":"MT1-12h","freq":0.128},{"genus":"Campylobacter","sample":"MT1-6h","freq":0.1},{"genus":"Campylobacter","sample":"MT1-24h","freq":0.128},{"genus":"Campylobacter","sample":"MT4-24h","freq":0.1},{"genus":"Campylobacter","sample":"MT4-12","freq":0.128},{"genus":"Campylobacter","sample":"MT4-6h","freq":0.128},{"genus":"Campylobacter","sample":"MT1-48h","freq":0.1},{"genus":"Campylobacter","sample":"MT2-6h","freq":0.1},{"genus":"Campylobacter","sample":"MT2-24h","freq":0.072},{"genus":"Campylobacter","sample":"MT2-12h","freq":0.043},
{"genus":"Leptotrichia","sample":"MT3-12h","freq":0.1},{"genus":"Leptotrichia","sample":"MT3-24h","freq":0.1},{"genus":"Leptotrichia","sample":"MT3-48h","freq":0.1},{"genus":"Leptotrichia","sample":"MT4-48h","freq":0.1},{"genus":"Leptotrichia","sample":"MT3-6h","freq":0.1},{"genus":"Leptotrichia","sample":"MT2-48h","freq":0.1},{"genus":"Leptotrichia","sample":"MT1-12h","freq":0.128},{"genus":"Leptotrichia","sample":"MT1-6h","freq":0.128},{"genus":"Leptotrichia","sample":"MT1-24h","freq":0.128},{"genus":"Leptotrichia","sample":"MT4-24h","freq":0.128},{"genus":"Leptotrichia","sample":"MT4-12","freq":0.128},{"genus":"Leptotrichia","sample":"MT4-6h","freq":0.128},{"genus":"Leptotrichia","sample":"MT1-48h","freq":0.072},{"genus":"Leptotrichia","sample":"MT2-6h","freq":0.072},{"genus":"Leptotrichia","sample":"MT2-24h","freq":0.072},{"genus":"Leptotrichia","sample":"MT2-12h","freq":0.043},
{"genus":"Prevotella","sample":"MT3-12h","freq":0.128},{"genus":"Prevotella","sample":"MT3-24h","freq":0.128},{"genus":"Prevotella","sample":"MT3-48h","freq":0.1},{"genus":"Prevotella","sample":"MT4-48h","freq":0.1},{"genus":"Prevotella","sample":"MT3-6h","freq":0.1},{"genus":"Prevotella","sample":"MT2-48h","freq":0.072},{"genus":"Prevotella","sample":"MT1-12h","freq":0.043},{"genus":"Prevotella","sample":"MT1-6h","freq":0.072},{"genus":"Prevotella","sample":"MT1-24h","freq":0.1},{"genus":"Prevotella","sample":"MT4-24h","freq":0.128},{"genus":"Prevotella","sample":"MT4-12","freq":0.128},{"genus":"Prevotella","sample":"MT4-6h","freq":0.128},{"genus":"Prevotella","sample":"MT1-48h","freq":0.072},{"genus":"Prevotella","sample":"MT2-6h","freq":0.1},{"genus":"Prevotella","sample":"MT2-24h","freq":0.014},{"genus":"Prevotella","sample":"MT2-12h","freq":0.014},
{"genus":"Eubacterium","sample":"MT3-12h","freq":0.1},{"genus":"Eubacterium","sample":"MT3-24h","freq":0.128},{"genus":"Eubacterium","sample":"MT3-48h","freq":0.128},{"genus":"Eubacterium","sample":"MT4-48h","freq":0.128},{"genus":"Eubacterium","sample":"MT3-6h","freq":0.1},{"genus":"Eubacterium","sample":"MT2-48h","freq":0.1},{"genus":"Eubacterium","sample":"MT1-12h","freq":0.072},{"genus":"Eubacterium","sample":"MT1-6h","freq":0.072},{"genus":"Eubacterium","sample":"MT1-24h","freq":0.128},{"genus":"Eubacterium","sample":"MT4-24h","freq":0.128},{"genus":"Eubacterium","sample":"MT4-12","freq":0.128},{"genus":"Eubacterium","sample":"MT4-6h","freq":0.128},{"genus":"Eubacterium","sample":"MT1-48h","freq":0.1},{"genus":"Eubacterium","sample":"MT2-6h","freq":0.1},{"genus":"Eubacterium","sample":"MT2-24h","freq":0.072},{"genus":"Eubacterium","sample":"MT2-12h","freq":0.043},
{"genus":"Ilyobacter","sample":"MT3-12h","freq":0.128},{"genus":"Ilyobacter","sample":"MT3-24h","freq":0.128},{"genus":"Ilyobacter","sample":"MT3-48h","freq":0.128},{"genus":"Ilyobacter","sample":"MT4-48h","freq":0.1},{"genus":"Ilyobacter","sample":"MT3-6h","freq":0.1},{"genus":"Ilyobacter","sample":"MT2-48h","freq":0.1},{"genus":"Ilyobacter","sample":"MT1-12h","freq":0.072},{"genus":"Ilyobacter","sample":"MT1-6h","freq":0.072},{"genus":"Ilyobacter","sample":"MT1-24h","freq":0.1},{"genus":"Ilyobacter","sample":"MT4-24h","freq":0.128},{"genus":"Ilyobacter","sample":"MT4-12","freq":0.128},{"genus":"Ilyobacter","sample":"MT4-6h","freq":0.128},{"genus":"Ilyobacter","sample":"MT1-48h","freq":0.072},{"genus":"Ilyobacter","sample":"MT2-6h","freq":0.072},{"genus":"Ilyobacter","sample":"MT2-24h","freq":0.072},{"genus":"Ilyobacter","sample":"MT2-12h","freq":0.043},
{"genus":"Tannerella","sample":"MT3-12h","freq":0.1},{"genus":"Tannerella","sample":"MT3-24h","freq":0.1},{"genus":"Tannerella","sample":"MT3-48h","freq":0.1},{"genus":"Tannerella","sample":"MT4-48h","freq":0.1},{"genus":"Tannerella","sample":"MT3-6h","freq":0.1},{"genus":"Tannerella","sample":"MT2-48h","freq":0.072},{"genus":"Tannerella","sample":"MT1-12h","freq":0.1},{"genus":"Tannerella","sample":"MT1-6h","freq":0.1},{"genus":"Tannerella","sample":"MT1-24h","freq":0.128},{"genus":"Tannerella","sample":"MT4-24h","freq":0.186},{"genus":"Tannerella","sample":"MT4-12","freq":0.128},{"genus":"Tannerella","sample":"MT4-6h","freq":0.128},{"genus":"Tannerella","sample":"MT1-48h","freq":0.043},{"genus":"Tannerella","sample":"MT2-6h","freq":0.072},{"genus":"Tannerella","sample":"MT2-24h","freq":0.014},{"genus":"Tannerella","sample":"MT2-12h","freq":0.014},
{"genus":"Bacteroides","sample":"MT3-12h","freq":0.128},{"genus":"Bacteroides","sample":"MT3-24h","freq":0.128},{"genus":"Bacteroides","sample":"MT3-48h","freq":0.128},{"genus":"Bacteroides","sample":"MT4-48h","freq":0.128},{"genus":"Bacteroides","sample":"MT3-6h","freq":0.1},{"genus":"Bacteroides","sample":"MT2-48h","freq":0.1},{"genus":"Bacteroides","sample":"MT1-12h","freq":0.072},{"genus":"Bacteroides","sample":"MT1-6h","freq":0.1},{"genus":"Bacteroides","sample":"MT1-24h","freq":0.128},{"genus":"Bacteroides","sample":"MT4-24h","freq":0.186},{"genus":"Bacteroides","sample":"MT4-12","freq":0.186},{"genus":"Bacteroides","sample":"MT4-6h","freq":0.186},{"genus":"Bacteroides","sample":"MT1-48h","freq":0.072},{"genus":"Bacteroides","sample":"MT2-6h","freq":0.1},{"genus":"Bacteroides","sample":"MT2-24h","freq":0.072},{"genus":"Bacteroides","sample":"MT2-12h","freq":0.014},
{"genus":"Porphyromonas","sample":"MT3-12h","freq":0.1},{"genus":"Porphyromonas","sample":"MT3-24h","freq":0.128},{"genus":"Porphyromonas","sample":"MT3-48h","freq":0.128},{"genus":"Porphyromonas","sample":"MT4-48h","freq":0.128},{"genus":"Porphyromonas","sample":"MT3-6h","freq":0.1},{"genus":"Porphyromonas","sample":"MT2-48h","freq":0.1},{"genus":"Porphyromonas","sample":"MT1-12h","freq":0.072},{"genus":"Porphyromonas","sample":"MT1-6h","freq":0.1},{"genus":"Porphyromonas","sample":"MT1-24h","freq":0.1},{"genus":"Porphyromonas","sample":"MT4-24h","freq":0.186},{"genus":"Porphyromonas","sample":"MT4-12","freq":0.186},{"genus":"Porphyromonas","sample":"MT4-6h","freq":0.186},{"genus":"Porphyromonas","sample":"MT1-48h","freq":0.072},{"genus":"Porphyromonas","sample":"MT2-6h","freq":0.1},{"genus":"Porphyromonas","sample":"MT2-24h","freq":0.043},{"genus":"Porphyromonas","sample":"MT2-12h","freq":0.014}
]
},
"columns": 2,
"spacing": {"row": 109, "column": 16},
"bounds": "flush",
"concat": [
{
"width": 165, "height": 37,
"title": {"text": "Relative frequency", "anchor": "start", "font": "Liberation Sans", "fontSize": 19.4, "fontWeight": "bold", "color": "#000000", "offset": 4},
"layer": [
{
"data": {"name": "bins"},
"mark": {"type": "rect", "strokeWidth": 0.6},
"encoding": {
"x": {"field": "lo", "type": "quantitative", "scale": {"domain": [-0.0775, 0.335], "nice": false, "zero": false},
"axis": {"title": null, "values": [0, 0.26], "labelExpr": "datum.value == 0 ? '0.0' : '0.26'", "domain": false, "grid": false, "ticks": true, "tickSize": 14, "tickWidth": 2, "tickColor": "#000000", "labelAlign": "left", "labelBaseline": "top", "labelPadding": 19, "labelFont": "Liberation Sans", "labelFontSize": 19, "labelFontWeight": "bold", "labelColor": "#000000", "labelFlush": false, "labelOverlap": false}},
"x2": {"field": "hi"},
"color": {"field": "freq", "type": "quantitative", "scale": {"type": "quantize", "domain": [0, 0.26], "range": ["#FFFBEA", "#FCF0B4", "#F9DE72", "#F6B63E", "#F08C2C", "#EC6A22", "#E5441A", "#DC0D0B", "#B31616"]}, "legend": null},
"stroke": {"field": "freq", "type": "quantitative", "scale": {"type": "quantize", "domain": [0, 0.26], "range": ["#FFFBEA", "#FCF0B4", "#F9DE72", "#F6B63E", "#F08C2C", "#EC6A22", "#E5441A", "#DC0D0B", "#B31616"]}, "legend": null}
}
},
{
"data": {"name": "bins"},
"transform": [{"aggregate": [{"op": "min", "field": "lo", "as": "lo"}, {"op": "max", "field": "hi", "as": "hi"}]}],
"mark": {"type": "rect", "filled": false, "stroke": "#000000", "strokeWidth": 2},
"encoding": {
"x": {"field": "lo", "type": "quantitative"},
"x2": {"field": "hi"}
}
}
]
},
{
"width": 827, "height": 125,
"data": {"name": "coltree"},
"layer": [
{"mark": {"type": "rule", "color": "#222222", "strokeWidth": 2, "strokeCap": "square"},
"encoding": {"x": {"field": "left", "type": "quantitative", "scale": {"domain": [0.5, 16.5], "nice": false, "zero": false}, "axis": null}, "x2": {"field": "right"}, "y": {"field": "h", "type": "quantitative", "scale": {"domain": [0, 125], "nice": false, "zero": false}, "axis": null}}},
{"mark": {"type": "rule", "color": "#222222", "strokeWidth": 2, "strokeCap": "square"},
"encoding": {"x": {"field": "left", "type": "quantitative", "axis": null}, "y": {"field": "h", "type": "quantitative", "axis": null}, "y2": {"field": "lh"}}},
{"mark": {"type": "rule", "color": "#222222", "strokeWidth": 2, "strokeCap": "square"},
"encoding": {"x": {"field": "right", "type": "quantitative", "axis": null}, "y": {"field": "h", "type": "quantitative", "axis": null}, "y2": {"field": "rh"}}}
]
},
{
"width": 165, "height": 1000,
"data": {"name": "rowtree"},
"layer": [
{"mark": {"type": "rule", "color": "#222222", "strokeWidth": 2, "strokeCap": "square"},
"encoding": {"x": {"field": "h", "type": "quantitative", "scale": {"domain": [0, 165], "reverse": true, "nice": false, "zero": false}, "axis": null}, "y": {"field": "lp", "type": "quantitative", "scale": {"domain": [0.5, 40.5], "reverse": true, "nice": false, "zero": false}, "axis": null}, "y2": {"field": "rp"}}},
{"mark": {"type": "rule", "color": "#222222", "strokeWidth": 2, "strokeCap": "square"},
"encoding": {"x": {"field": "h", "type": "quantitative", "axis": null}, "x2": {"field": "lh"}, "y": {"field": "lp", "type": "quantitative", "axis": null}}},
{"mark": {"type": "rule", "color": "#222222", "strokeWidth": 2, "strokeCap": "square"},
"encoding": {"x": {"field": "h", "type": "quantitative", "axis": null}, "x2": {"field": "rh"}, "y": {"field": "rp", "type": "quantitative", "axis": null}}}
]
},
{
"width": 827, "height": 1000,
"data": {"name": "cells"},
"mark": {"type": "rect", "strokeWidth": 0.6},
"encoding": {
"x": {"field": "sample", "type": "nominal",
"sort": ["MT3-12h","MT3-24h","MT3-48h","MT4-48h","MT3-6h","MT2-48h","MT1-12h","MT1-6h","MT1-24h","MT4-24h","MT4-12","MT4-6h","MT1-48h","MT2-6h","MT2-24h","MT2-12h"],
"scale": {"paddingInner": 0, "paddingOuter": 0},
"axis": {"orient": "top", "title": null, "labelAngle": -90, "labelAlign": "left", "labelBaseline": "middle", "ticks": false, "tickSize": 0, "domain": false, "labelPadding": 8, "labelFont": "Liberation Sans", "labelFontSize": 24.5, "labelFontWeight": "bold", "labelColor": "#000000", "labelLimit": 300}},
"y": {"field": "genus", "type": "nominal",
"sort": ["Angustibacter","Kineococcus","Rothia","Actinomyces","Capnocytophaga","Fusobacterium","Veillonella","Neisseria","Alysiella","Kingella","Gemella","Paenibacillus","Streptococcus","Mycobacterium","Actinopolyspora","Spirochaeta","Corynebacterium","Kineosporia","Leptonema","Dethiobacter","Macrococcus","Weisella","Auraticoccus","Quadrisphaera","Leucobacter","Brachybacterium","Modestobacter","Aggregatibacter","Volucribacter","Haemophilus","Cardiobacterium","Suttonella","Campylobacter","Leptotrichia","Prevotella","Eubacterium","Ilyobacter","Tannerella","Bacteroides","Porphyromonas"],
"scale": {"paddingInner": 0, "paddingOuter": 0},
"axis": {"orient": "right", "title": null, "ticks": false, "tickSize": 0, "domain": false, "labelPadding": 13, "labelAlign": "left", "labelBaseline": "middle", "labelFont": "Liberation Sans", "labelFontSize": 21.6, "labelFontWeight": "bold", "labelLimit": 300,
"labelColor": {"condition": [
{"test": "indexof(['Angustibacter','Kineococcus','Rothia','Actinomyces','Mycobacterium','Actinopolyspora','Corynebacterium','Kineosporia','Auraticoccus','Quadrisphaera','Leucobacter','Brachybacterium','Modestobacter','Cardiobacterium'], datum.value) >= 0", "value": "#DE5AA0"},
{"test": "indexof(['Capnocytophaga','Prevotella','Tannerella','Bacteroides','Porphyromonas'], datum.value) >= 0", "value": "#E2401E"},
{"test": "indexof(['Fusobacterium','Leptotrichia','Ilyobacter'], datum.value) >= 0", "value": "#2E7D34"},
{"test": "indexof(['Veillonella','Gemella','Paenibacillus','Streptococcus','Dethiobacter','Macrococcus','Volucribacter','Eubacterium'], datum.value) >= 0", "value": "#4A62B4"},
{"test": "indexof(['Spirochaeta','Leptonema'], datum.value) >= 0", "value": "#8C8C8C"}
], "value": "#000000"}}},
"color": {"field": "freq", "type": "quantitative", "scale": {"type": "quantize", "domain": [0, 0.26], "range": ["#FFFBEA", "#FCF0B4", "#F9DE72", "#F6B63E", "#F08C2C", "#EC6A22", "#E5441A", "#DC0D0B", "#B31616"]}, "legend": null},
"stroke": {"field": "freq", "type": "quantitative", "scale": {"type": "quantize", "domain": [0, 0.26], "range": ["#FFFBEA", "#FCF0B4", "#F9DE72", "#F6B63E", "#F08C2C", "#EC6A22", "#E5441A", "#DC0D0B", "#B31616"]}, "legend": null}
}
}
]
}
